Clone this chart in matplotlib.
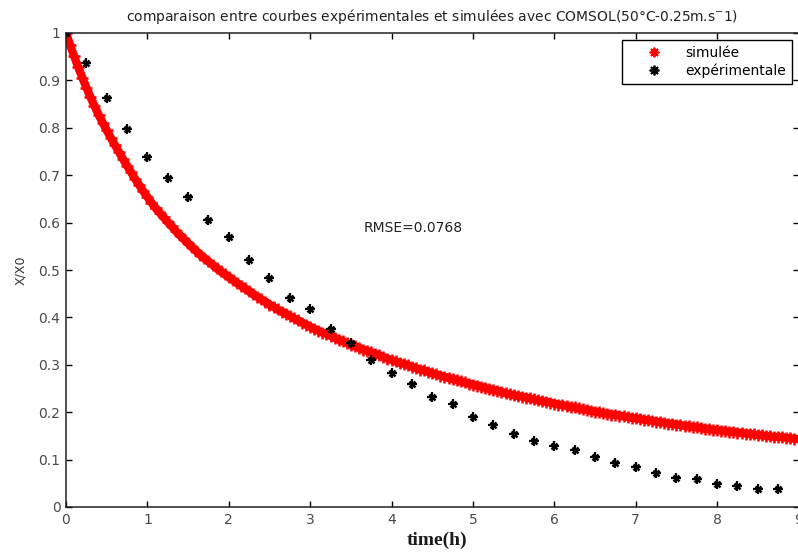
import numpy as np
import matplotlib
matplotlib.use('Agg')
import matplotlib.pyplot as plt
from matplotlib.lines import Line2D

# simulated X/X0 (COMSOL), one value every 0.05 h from 0 to 9 h
dt_sim = 0.05
x_sim = [
    1.000, 0.975, 0.951, 0.928, 0.906, 0.885, 0.865, 0.846, 0.828, 0.811,
    0.795, 0.779, 0.764, 0.749, 0.734, 0.720, 0.706, 0.692, 0.679, 0.666,
    0.654, 0.642, 0.631, 0.621, 0.611, 0.601, 0.592, 0.582, 0.573, 0.565,
    0.556, 0.548, 0.540, 0.532, 0.525, 0.518, 0.511, 0.504, 0.497, 0.491,
    0.485, 0.479, 0.473, 0.467, 0.461, 0.455, 0.449, 0.444, 0.438, 0.433,
    0.427, 0.422, 0.417, 0.412, 0.408, 0.403, 0.398, 0.394, 0.389, 0.385,
    0.380, 0.376, 0.372, 0.368, 0.365, 0.361, 0.357, 0.353, 0.350, 0.346,
    0.342, 0.339, 0.336, 0.332, 0.329, 0.326, 0.323, 0.320, 0.316, 0.313,
    0.310, 0.307, 0.304, 0.302, 0.299, 0.296, 0.293, 0.290, 0.288, 0.285,
    0.282, 0.280, 0.277, 0.275, 0.272, 0.270, 0.268, 0.265, 0.263, 0.260,
    0.258, 0.256, 0.254, 0.251, 0.249, 0.247, 0.245, 0.243, 0.240, 0.238,
    0.236, 0.234, 0.233, 0.231, 0.229, 0.227, 0.225, 0.223, 0.222, 0.220,
    0.218, 0.216, 0.215, 0.213, 0.211, 0.210, 0.208, 0.206, 0.205, 0.203,
    0.201, 0.200, 0.198, 0.197, 0.195, 0.194, 0.193, 0.191, 0.190, 0.188,
    0.187, 0.186, 0.184, 0.183, 0.182, 0.180, 0.179, 0.178, 0.176, 0.175,
    0.174, 0.173, 0.171, 0.170, 0.169, 0.168, 0.167, 0.165, 0.164, 0.163,
    0.162, 0.161, 0.160, 0.159, 0.158, 0.157, 0.156, 0.155, 0.154, 0.153,
    0.152, 0.151, 0.150, 0.149, 0.148, 0.148, 0.147, 0.146, 0.145, 0.144,
    0.143,
]

# measured X/X0, one value every 0.25 h
dt_exp = 0.25
x_exp = [
    1.000, 0.937, 0.863, 0.798, 0.739, 0.695, 0.653, 0.606, 0.569, 0.522,
    0.484, 0.441, 0.417, 0.376, 0.346, 0.311, 0.283, 0.260, 0.233, 0.218,
    0.189, 0.173, 0.154, 0.139, 0.128, 0.120, 0.105, 0.093, 0.084, 0.072,
    0.061, 0.059, 0.048, 0.044, 0.038, 0.038,
]

rmse_text = 'RMSE=0.0768'
x_ticks = list(range(0, 10))
y_ticks = [0, 0.1, 0.2, 0.3, 0.4, 0.5, 0.6, 0.7, 0.8, 0.9, 1]
y_ticklabels = ['0', '0.1', '0.2', '0.3', '0.4', '0.5', '0.6', '0.7', '0.8', '0.9', '1']

t_sim = dt_sim*np.arange(len(x_sim))
t_exp = dt_exp*np.arange(len(x_exp))

fig = plt.figure(figsize=(7.98, 5.53), dpi=100)
ax = fig.add_axes([66/798, 46/553, 732.5/798, 474/553])

# simulated curve: thick band of plus markers
ax.plot(t_sim, x_sim, ls='-', lw=6, marker='+', ms=9, mew=1.8, color='red',
        solid_capstyle='butt')
# measured points: plus with a small x on top (matlab asterisk look)
ax.plot(t_exp, x_exp, ls='none', marker='+', ms=7.5, mew=1.6, color='black')
ax.plot(t_exp, x_exp, ls='none', marker='x', ms=4, mew=1.8, color='black')

ax.text(3.66, 0.589, rmse_text, fontsize=10, color='#222222', va='center')

ax.set_xlim(0, 9)
ax.set_ylim(0, 1)
ax.set_xticks(x_ticks)
ax.set_yticks(y_ticks)
ax.set_yticklabels(y_ticklabels)
ax.tick_params(direction='in', top=True, right=True, length=4, width=1,
               labelsize=10, labelcolor='#4a4a4a', pad=4)
for s in ax.spines.values():
    s.set_linewidth(1.1)
    s.set_color('#202020')

ax.set_title('comparaison entre courbes expérimentales et simulées avec COMSOL(50°C-0.25m.s$^{-}$1)',
             fontsize=10, color='#222222', pad=9)
ax.set_ylabel('X/X0', fontsize=9, color='#333333', labelpad=8)
ax.set_xlabel('time(h)', fontsize=14, fontweight='bold', family='Liberation Serif',
              color='#1a1a1a', labelpad=1)
ax.xaxis.set_label_coords(0.507, -0.052)

star = (8, 2, 0)
handles = [Line2D([], [], ls='none', marker=star, ms=7, mew=1.3, color='red'),
           Line2D([], [], ls='none', marker=star, ms=7, mew=1.3, color='black')]
leg = ax.legend(handles, ['simulée', 'expérimentale'], loc='upper right',
                bbox_to_anchor=(0.991, 0.985), borderaxespad=0,
                fancybox=False, edgecolor='black', framealpha=1, fontsize=10,
                handlelength=3.8, handletextpad=0.4, borderpad=0.4,
                labelspacing=0.3)
leg.get_frame().set_linewidth(1.0)

plt.savefig('out.png', dpi=100)
